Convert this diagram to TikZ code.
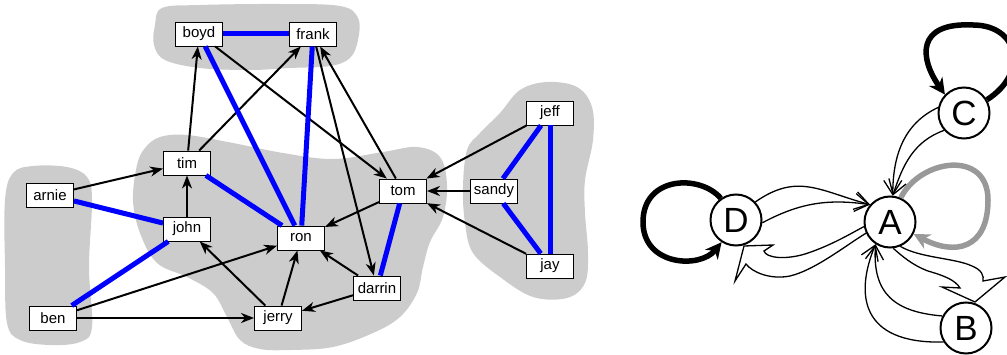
\documentclass[tikz,border=0pt]{standalone}
\usepackage{fontspec}
\setmainfont{Liberation Sans}
\usetikzlibrary{arrows.meta,backgrounds}

\definecolor{blobgray}{RGB}{204,204,204}
\definecolor{loopgray}{RGB}{153,153,153}
\definecolor{tieblue}{RGB}{0,0,255}

\tikzset{
  person/.style={draw, line width=0.9pt, fill=white, minimum width=47pt,
    minimum height=24pt, inner sep=0pt, font=\fontsize{15}{17}\selectfont},
  blob/.style={fill=blobgray, draw=none},
  tie/.style={draw=tieblue, line width=5pt},
  link/.style={draw=black, line width=2pt,
    -{Stealth[length=13pt,width=10pt,inset=4pt]}},
  state/.style={circle, draw, line width=2pt, fill=white, minimum size=51pt,
    inner sep=0pt, font=\fontsize{35}{40}\selectfont},
  thinarc/.style={line width=1.3pt, -{Straight Barb[length=14pt,width=18pt]}},
  heavyloop/.style={line width=5.5pt, -{Stealth[length=16pt,width=16pt,inset=5pt]}},
  hollow/.style={draw, fill=white, line width=1.3pt, line join=miter},
}

\begin{document}
\begin{tikzpicture}[x=1pt,y=1pt]
\useasboundingbox (0,0) rectangle (1007,354);

% ---------- groups ----------
\fill[blob] plot[smooth cycle, tension=0.6] coordinates {
  (155,329) (162,346) (200,349) (280,350) (340,348) (358,336) (358,314)
  (350,296) (330,288) (290,286) (250,284) (200,286) (165,294) (154,309)};
\fill[blob] plot[smooth cycle, tension=0.6] coordinates {
  (137,189) (145,206) (160,217) (187,219) (233,211) (283,201) (333,195)
  (383,202) (417,207) (440,197) (447,169) (443,137) (430,112) (423,87)
  (417,61) (400,37) (373,21) (333,7) (290,4) (260,5) (240,14) (227,37)
  (213,61) (187,77) (157,91) (140,121) (133,154)};
\fill[blob] plot[smooth cycle, tension=0.6] coordinates {
  (5,154) (13,181) (33,188) (67,187) (87,177) (92,154) (89,87) (92,27)
  (80,12) (50,9) (20,14) (7,31) (5,87)};
\fill[blob] plot[smooth cycle, tension=0.6] coordinates {
  (463,167) (467,204) (480,221) (500,241) (520,264) (547,272) (577,267)
  (592,247) (593,214) (585,174) (585,141) (588,101) (585,71) (567,56)
  (533,57) (500,77) (473,101) (465,131)};

% ---------- people ----------
\node[person] (boyd)   at (199,320) {boyd};
\node[person] (frank)  at (313,320) {frank};
\node[person] (tim)    at (187,191) {tim};
\node[person] (arnie)  at (50,159)  {arnie};
\node[person] (john)   at (187,125) {john};
\node[person] (ron)    at (301,116) {ron};
\node[person] (ben)    at (53,36)   {ben};
\node[person] (jerry)  at (278,36)  {jerry};
\node[person] (tom)    at (403,163) {tom};
\node[person] (sandy)  at (494,163) {sandy};
\node[person] (jeff)   at (550,241) {jeff};
\node[person] (jay)    at (550,88)  {jay};
\node[person] (darrin) at (377,66)  {darrin};

% directed links
\draw[link] (tim) -- (boyd);
\draw[link] (tim) -- (frank);
\draw[link] (john) -- (tim);
\draw[link] (arnie) -- (tim);
\draw[link] (boyd) -- (tom);
\draw[link] (frank) -- (darrin);
\draw[link] (tom) -- (frank);
\draw[link] (tom) -- (ron);
\draw[link] (darrin) -- (ron);
\draw[link] (darrin) -- (jerry);
\draw[link] (jerry) -- (ron);
\draw[link] (jerry) -- (john);
\draw[link] (ben) -- (ron);
\draw[link] (ben) -- (jerry);
\draw[link] (jeff) -- (tom);
\draw[link] (sandy) -- (tom);
\draw[link] (jay) -- (tom);

% strong ties
\draw[tie] (boyd) -- (frank);
\draw[tie] (boyd) -- (ron);
\draw[tie] (frank) -- (ron);
\draw[tie] (tim) -- (ron);
\draw[tie] (arnie) -- (john);
\draw[tie] (john) -- (ben);
\draw[tie] (tom) -- (darrin);
\draw[tie] (jeff) -- (sandy);
\draw[tie] (sandy) -- (jay);
\draw[tie] (jeff) -- (jay);

% ---------- state graph ----------
\node[state] (D) at (736,134) {D};
\node[state] (A) at (890,132) {A};
\node[state] (C) at (964,241) {C};
\node[state] (B) at (966,26)  {B};

% self loops
\draw[heavyloop] (D.125) .. controls (700,180) and (643,178) .. (643,132)
  .. controls (643,88) and (700,85) .. (D.237);
\draw[heavyloop] (C.30) .. controls (1030,282) and (1018,329) .. (973,329)
  .. controls (915,332) and (920,295) .. (C.136);
\draw[heavyloop, draw=loopgray] (A.66) .. controls (920,195) and (988,205) .. (988,154)
  .. controls (988,105) and (955,98) .. (A.333);

% thin arcs
\draw[thinarc] (C.168) to[out=205, in=90] (A.84);
\draw[thinarc] (C.221) to[out=200, in=72] (A.84);
\draw[thinarc] (D.43) to[out=35, in=165, looseness=1.15] (A.139);
\draw[thinarc] (D.354) to[out=28, in=172] (A.139);
\draw[thinarc] (B.212) .. controls (860,10) and (855,60) .. (A.237);
\draw[thinarc] (B.153) .. controls (895,42) and (872,60) .. (A.237);

% broad hollow arrows
\begin{scope}[on background layer]
\draw[hollow] (A.190) .. controls (850,120) and (830,108) .. (805,100)
  .. controls (785,94) and (766,96) .. (764,103)
  -- (773,109) -- (744,108) -- (735,73) -- (746,90)
  .. controls (752,82) and (770,74) .. (790,78)
  .. controls (815,84) and (845,108) .. (A.205);
\draw[hollow] (A.293) .. controls (920,96) and (955,96) .. (972,88)
  .. controls (982,84) and (984,78) .. (983,73)
  -- (1005,77) -- (975,52) -- (942,67) -- (960,66)
  .. controls (955,74) and (945,78) .. (928,83)
  .. controls (912,89) and (902,98) .. (A.277);
\end{scope}
\end{tikzpicture}
\end{document}
